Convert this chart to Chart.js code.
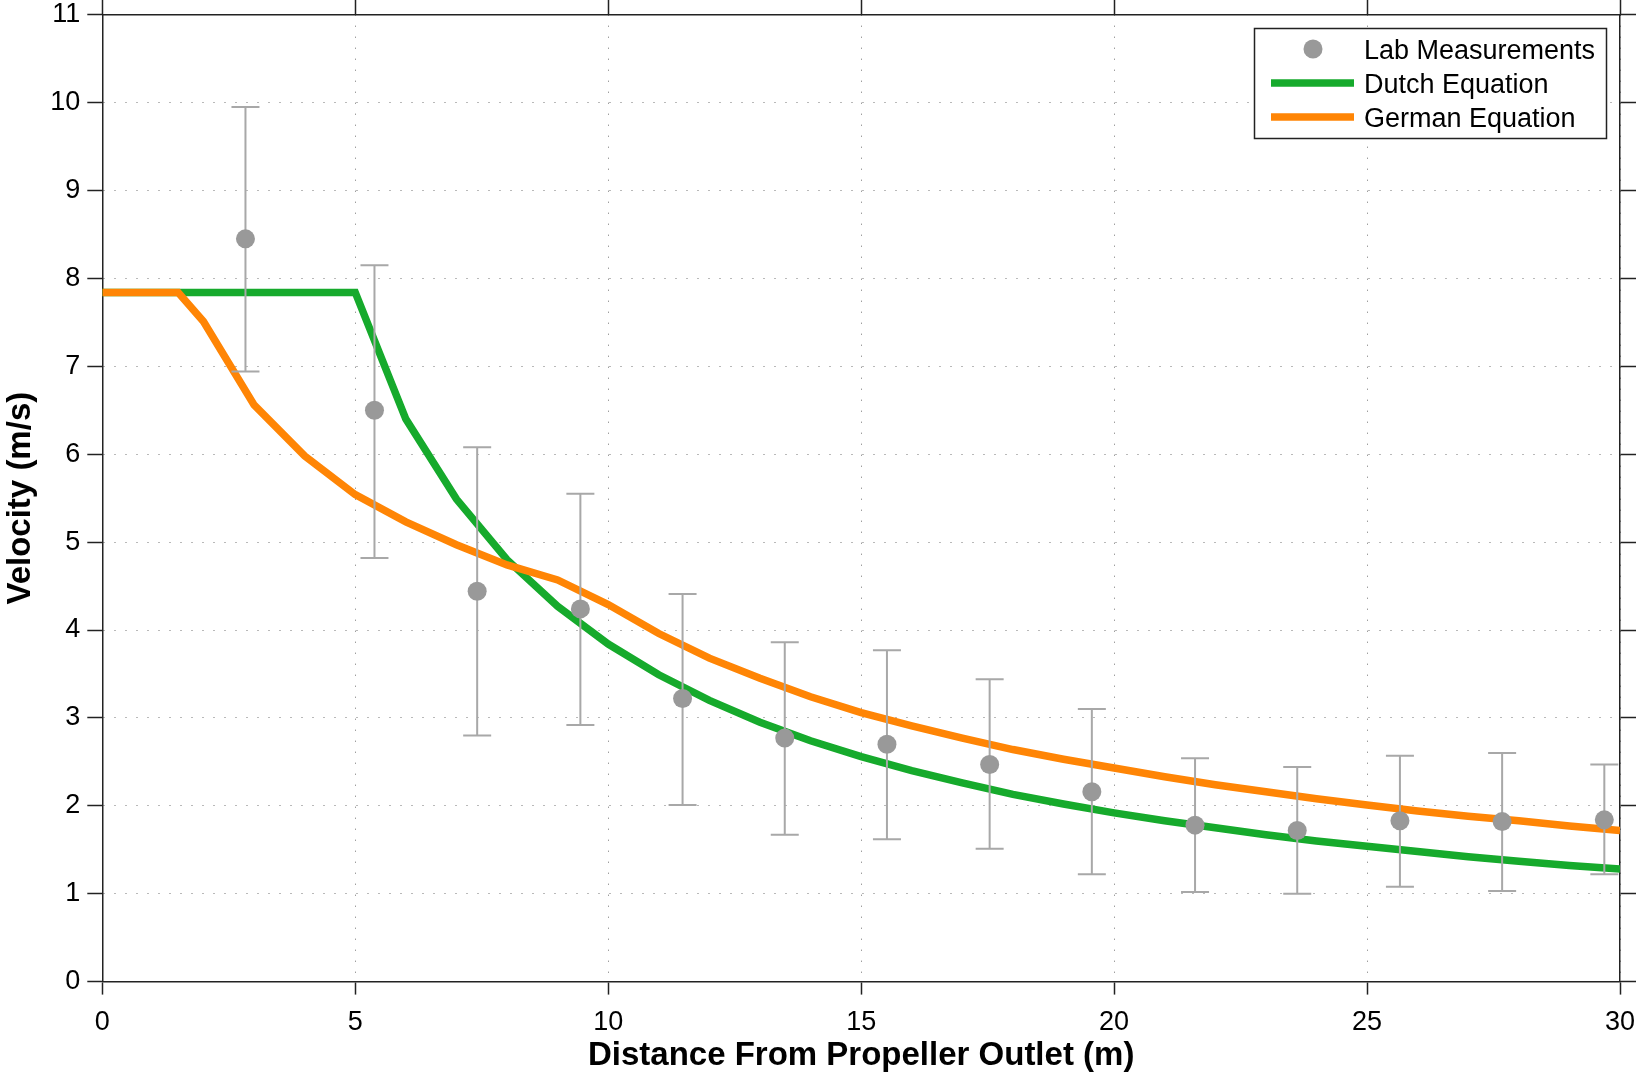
<!DOCTYPE html>
<html>
<head>
<meta charset="utf-8">
<title>Velocity vs distance</title>
<script src="https://cdn.jsdelivr.net/npm/chart.js@4.4.0/dist/chart.umd.min.js"></script>
<style>
  html, body { margin: 0; padding: 0; background: #fff; }
  #wrap { width: 1636px; height: 1072px; }
</style>
</head>
<body>
<div id="wrap"><canvas id="chart"></canvas></div>
<script>
// Lab measurements (distance, velocity, error bar ends)
const labDist = [2.83, 5.38, 7.41, 9.45, 11.47, 13.49, 15.51, 17.54, 19.56, 21.60, 23.62, 25.65, 27.67, 29.69]
const labVel = [8.45, 6.50, 4.44, 4.24, 3.22, 2.77, 2.70, 2.47, 2.16, 1.78, 1.72, 1.83, 1.82, 1.84]
const labHigh = [9.95, 8.15, 6.08, 5.55, 4.41, 3.86, 3.77, 3.44, 3.10, 2.54, 2.44, 2.57, 2.60, 2.47]
const labLow = [6.94, 4.82, 2.80, 2.92, 2.01, 1.67, 1.62, 1.51, 1.22, 1.02, 1.00, 1.08, 1.03, 1.22]

// Equation curves, read at these distances
const lineDist = [0, 1.5, 2, 3, 4, 5, 6, 7, 8, 9, 10, 11, 12, 13, 14, 15, 16, 17, 18, 19, 20, 21, 22, 23, 24, 25, 26, 27, 28, 29, 30]
const dutchVel = [7.84, 7.84, 7.84, 7.84, 7.84, 7.84, 6.40, 5.49, 4.80, 4.27, 3.84, 3.49, 3.20, 2.95, 2.74, 2.56, 2.40, 2.26, 2.13, 2.02, 1.92, 1.83, 1.75, 1.67, 1.60, 1.54, 1.48, 1.42, 1.37, 1.32, 1.28]
const germanVel = [7.84, 7.84, 7.51, 6.56, 5.98, 5.54, 5.23, 4.97, 4.74, 4.57, 4.29, 3.96, 3.68, 3.45, 3.24, 3.06, 2.91, 2.77, 2.64, 2.53, 2.43, 2.33, 2.24, 2.16, 2.08, 2.01, 1.94, 1.88, 1.83, 1.77, 1.72]

// Axis ticks
const xTicks = [0, 5, 10, 15, 20, 25, 30]
const yTicks = [0, 1, 2, 3, 4, 5, 6, 7, 8, 9, 10, 11]

const FONT = "'Liberation Sans', Arial, Helvetica, sans-serif"
const GREEN = '#16aa2c'
const ORANGE = '#ff8505'
const MARKER = '#999999'
const ERRBAR = '#a8a8a8'

const toPoints = (xs, ys) => xs.map((x, i) => ({ x: x, y: ys[i] }))

// Fix an axis box size and drop the label overhang padding
const fixBox = (size) => (s) => {
  if (s.isHorizontal()) s.height = size
  else s.width = size
  s.paddingLeft = 0
  s.paddingRight = 0
  s.paddingTop = 0
  s.paddingBottom = 0
}

// Draw the error bars under the lab markers
const errorBars = {
  id: 'errorBars',
  beforeDatasetDraw(chart, args) {
    if (args.index !== 0) return
    const { ctx, scales: { x, y } } = chart
    ctx.save()
    ctx.strokeStyle = ERRBAR
    ctx.lineWidth = 2
    labDist.forEach((d, i) => {
      const px = x.getPixelForValue(d)
      const top = y.getPixelForValue(labHigh[i])
      const bot = y.getPixelForValue(labLow[i])
      ctx.beginPath()
      ctx.moveTo(px, top); ctx.lineTo(px, bot)
      ctx.moveTo(px - 14, top); ctx.lineTo(px + 14, top)
      ctx.moveTo(px - 14, bot); ctx.lineTo(px + 14, bot)
      ctx.stroke()
    })
    ctx.restore()
  }
}

// Boxed legend in the top right corner
const boxLegend = {
  id: 'boxLegend',
  afterDraw(chart) {
    const { ctx, data } = chart
    const left = 1254.5, top = 28.5, w = 352, h = 110
    ctx.save()
    ctx.fillStyle = '#fff'
    ctx.fillRect(left, top, w, h)
    ctx.strokeStyle = '#222'
    ctx.lineWidth = 1.5
    ctx.strokeRect(left, top, w, h)
    ctx.font = '27px ' + FONT
    ctx.textBaseline = 'alphabetic'
    const baselines = [59, 93, 127]
    data.datasets.forEach((ds, i) => {
      const cy = baselines[i] - 10
      if (i === 0) {
        ctx.fillStyle = MARKER
        ctx.beginPath()
        ctx.arc(1313, cy, 9.5, 0, Math.PI * 2)
        ctx.fill()
      } else {
        ctx.strokeStyle = ds.borderColor
        ctx.lineWidth = 7.5
        ctx.beginPath()
        ctx.moveTo(1271, cy); ctx.lineTo(1354, cy)
        ctx.stroke()
      }
      ctx.fillStyle = '#000'
      ctx.fillText(ds.label, 1364, baselines[i])
    })
    ctx.restore()
  }
}

const dotted = { color: 'rgba(0,0,0,0.55)', lineWidth: 1, tickColor: '#222', tickWidth: 1.5 }
const solidBorder = { color: '#222', width: 1.5, dash: [1, 10] }

new Chart(document.getElementById('chart'), {
  type: 'line',
  data: {
    datasets: [
      {
        label: 'Lab Measurements',
        type: 'scatter',
        data: toPoints(labDist, labVel),
        backgroundColor: MARKER,
        borderColor: MARKER,
        borderWidth: 0,
        pointRadius: 9.5,
        order: 0,
      },
      {
        label: 'Dutch Equation',
        data: toPoints(lineDist, dutchVel),
        borderColor: GREEN,
        borderWidth: 7.5,
        pointRadius: 0,
        tension: 0,
        order: 2,
      },
      {
        label: 'German Equation',
        data: toPoints(lineDist, germanVel),
        borderColor: ORANGE,
        borderWidth: 7.5,
        pointRadius: 0,
        tension: 0,
        order: 1,
      },
    ],
  },
  options: {
    responsive: true,
    maintainAspectRatio: false,
    animation: false,
    layout: { padding: 0 },
    plugins: {
      legend: { display: false },
      tooltip: { enabled: false },
    },
    scales: {
      x: {
        type: 'linear',
        position: 'bottom',
        min: 0,
        max: 30,
        afterBuildTicks: (s) => { s.ticks = xTicks.map(v => ({ value: v })) },
        afterFit: fixBox(90.4),
        grid: { ...dotted, tickLength: 13 },
        border: solidBorder,
        ticks: { color: '#000', padding: 14, font: { family: FONT, size: 27, lineHeight: 1 }, maxRotation: 0 },
        title: {
          display: true,
          text: 'Distance From Propeller Outlet (m)',
          color: '#000',
          font: { family: FONT, size: 33, weight: 'bold', lineHeight: 1 },
          padding: { top: 0, bottom: 0 },
        },
      },
      x2: {
        type: 'linear',
        axis: 'x',
        position: 'top',
        min: 0,
        max: 30,
        afterBuildTicks: (s) => { s.ticks = xTicks.map(v => ({ value: v })) },
        afterFit: fixBox(14.7),
        grid: { drawOnChartArea: false, tickColor: '#222', tickWidth: 1.5, tickLength: 15 },
        border: { color: '#222', width: 1.5 },
        ticks: { display: false },
      },
      y: {
        type: 'linear',
        position: 'left',
        min: 0,
        max: 11,
        afterBuildTicks: (s) => { s.ticks = yTicks.map(v => ({ value: v })) },
        afterFit: fixBox(102.3),
        grid: { ...dotted, tickLength: 15 },
        border: solidBorder,
        ticks: { color: '#000', padding: 7, font: { family: FONT, size: 27 } },
        title: {
          display: true,
          text: 'Velocity (m/s)',
          color: '#000',
          font: { family: FONT, size: 33, weight: 'bold', lineHeight: 1 },
          padding: { top: 4, bottom: 0 },
        },
      },
      y2: {
        type: 'linear',
        axis: 'y',
        position: 'right',
        min: 0,
        max: 11,
        afterBuildTicks: (s) => { s.ticks = yTicks.map(v => ({ value: v })) },
        afterFit: fixBox(16),
        grid: { drawOnChartArea: false, tickColor: '#222', tickWidth: 1.5, tickLength: 16 },
        border: { color: '#222', width: 1.5 },
        ticks: { display: false },
      },
    },
  },
  plugins: [errorBars, boxLegend],
})
</script>
</body>
</html>
